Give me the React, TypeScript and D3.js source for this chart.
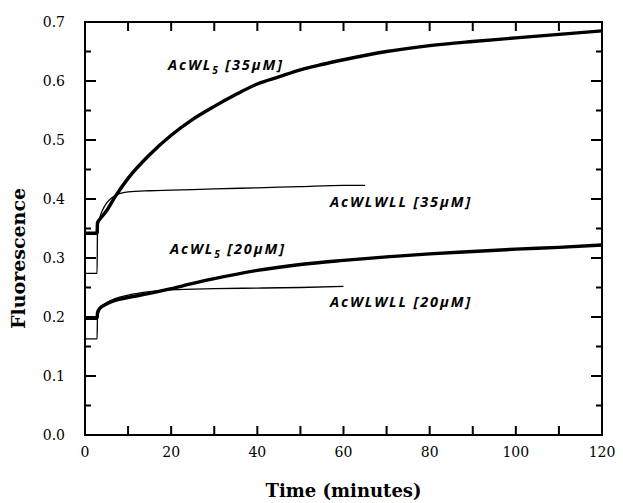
import React from "react";
import * as d3 from "d3";

// ---- data ----
const xTickLabels = [0, 20, 40, 60, 80, 100, 120];
const yTickLabels = [0.0, 0.1, 0.2, 0.3, 0.4, 0.5, 0.6, 0.7];

const timeWL5_35 = [0, 2.8, 2.9, 3.5, 5, 7, 10, 15, 20, 25, 30, 35, 40, 45, 50, 55, 60, 70, 80, 90, 100, 110, 120];
const valWL5_35 = [0.342, 0.342, 0.36, 0.366, 0.38, 0.404, 0.435, 0.475, 0.508, 0.535, 0.557, 0.577, 0.595, 0.607, 0.619, 0.628, 0.636, 0.65, 0.66, 0.667, 0.673, 0.679, 0.685];

const timeWLWLL_35 = [0, 2.8, 2.9, 3.5, 4, 5, 6, 7, 8, 10, 15, 20, 30, 40, 50, 60, 65];
const valWLWLL_35 = [0.274, 0.274, 0.345, 0.37, 0.38, 0.393, 0.401, 0.406, 0.409, 0.412, 0.414, 0.415, 0.417, 0.419, 0.421, 0.423, 0.423];

const timeWL5_20 = [0, 2.8, 2.9, 3.5, 5, 7, 10, 15, 20, 25, 30, 40, 50, 60, 70, 80, 90, 100, 110, 120];
const valWL5_20 = [0.198, 0.198, 0.207, 0.215, 0.222, 0.228, 0.233, 0.24, 0.248, 0.257, 0.265, 0.279, 0.289, 0.296, 0.302, 0.307, 0.311, 0.315, 0.318, 0.322];

const timeWLWLL_20 = [0, 2.8, 2.9, 3.5, 5, 7, 10, 15, 20, 30, 40, 50, 60];
const valWLWLL_20 = [0.163, 0.163, 0.2, 0.213, 0.224, 0.231, 0.237, 0.243, 0.246, 0.248, 0.249, 0.25, 0.252];

const seriesNames = ["AcWL5 [35μM]", "AcWLWLL [35μM]", "AcWL5 [20μM]", "AcWLWLL [20μM]"];

// ---- layout ----
const W = 623, H = 503;
const left = 85, right = 602, top = 22, bottom = 435;

const x = d3.scaleLinear().domain([0, 120]).range([left, right]);
const y = d3.scaleLinear().domain([0, 0.7]).range([bottom, top]);

const line = d3
  .line<[number, number]>()
  .x((d) => x(d[0]))
  .y((d) => y(d[1]))
  .curve(d3.curveMonotoneX);

const zip = (t: number[], v: number[]) => t.map((ti, i) => [ti, v[i]] as [number, number]);

const series = [
  { data: zip(timeWL5_35, valWL5_35), width: 3.4 },
  { data: zip(timeWLWLL_35, valWLWLL_35), width: 1.3 },
  { data: zip(timeWL5_20, valWL5_20), width: 3.4 },
  { data: zip(timeWLWLL_20, valWLWLL_20), width: 1.3 },
];

const labelPos = [
  { lx: 168, ly: 70 },
  { lx: 330, ly: 207 },
  { lx: 170, ly: 254 },
  { lx: 330, ly: 307 },
];

function tickPath(): string {
  const p = d3.path();
  d3.range(0, 121, 10).forEach((t) => {
    const xx = x(t);
    p.moveTo(xx, bottom);
    p.lineTo(xx, bottom - 9);
    p.moveTo(xx, top);
    p.lineTo(xx, top + 9);
  });
  d3.range(0, 15).forEach((i) => {
    const v = i * 0.05;
    const len = i % 2 === 0 ? 11 : 6;
    const yy = y(v);
    p.moveTo(left, yy);
    p.lineTo(left + len, yy);
    p.moveTo(right, yy);
    p.lineTo(right - len, yy);
  });
  return p.toString();
}

function Label({ text, lx, ly }: { text: string; lx: number; ly: number }) {
  const m = text.match(/^(AcWL)5(.*)$/);
  const common = {
    x: lx,
    y: ly,
    fontFamily: "'Open Sans', 'DejaVu Sans', sans-serif",
    fontStyle: "italic",
    fontWeight: 700,
    fontSize: 14.5,
    letterSpacing: 1.9,
    fill: "#000",
  } as const;
  if (m) {
    return (
      <text {...common}>
        {m[1]}
        <tspan dy={4} fontSize={10}>5</tspan>
        <tspan dy={-4}>{m[2]}</tspan>
      </text>
    );
  }
  return <text {...common}>{text}</text>;
}

export default function App() {
  const serif = "'DejaVu Serif', serif";

  return (
    <svg
      width={W}
      height={H}
      style={{ position: "absolute", left: 0, top: 0, background: "#fff" }}
    >
      <rect x={0} y={0} width={W} height={H} fill="#fff" />
      {/* series */}
      {series.map((s, i) => (
        <path
          key={i}
          d={line(s.data) || ""}
          fill="none"
          stroke="#000"
          strokeWidth={s.width}
          strokeLinejoin="round"
        />
      ))}

      {/* ticks */}
      <path d={tickPath()} fill="none" stroke="#000" strokeWidth={2} />

      {/* frame */}
      <rect
        x={left}
        y={top}
        width={right - left}
        height={bottom - top}
        fill="none"
        stroke="#000"
        strokeWidth={2}
      />

      {/* tick labels */}
      {xTickLabels.map((t) => (
        <text
          key={"xl" + t}
          x={x(t)}
          y={457}
          textAnchor="middle"
          fontFamily={serif}
          fontSize={14}
          fill="#000"
        >
          {t}
        </text>
      ))}
      {yTickLabels.map((v) => (
        <text
          key={"yl" + v}
          x={65}
          y={y(v) + 5}
          textAnchor="end"
          fontFamily={serif}
          fontSize={14}
          fill="#000"
        >
          {v.toFixed(1)}
        </text>
      ))}

      {/* axis titles */}
      <text
        x={(left + right) / 2}
        y={497}
        textAnchor="middle"
        fontFamily={serif}
        fontWeight="bold"
        fontSize={18}
        fill="#000"
      >
        Time (minutes)
      </text>
      <text
        transform={`translate(25, ${(top + bottom) / 2 + 30}) rotate(-90)`}
        textAnchor="middle"
        fontFamily={serif}
        fontWeight="bold"
        fontSize={19}
        fill="#000"
      >
        Fluorescence
      </text>

      {/* series labels */}
      {seriesNames.map((n, i) => (
        <Label key={n} text={n} lx={labelPos[i].lx} ly={labelPos[i].ly} />
      ))}
    </svg>
  );
}
